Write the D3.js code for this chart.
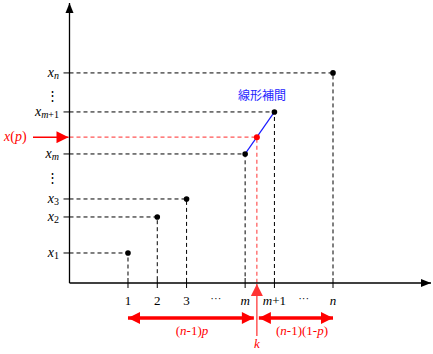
<!DOCTYPE html>
<html>
<head>
<meta charset="utf-8">
<script src="https://cdn.jsdelivr.net/npm/d3@7"></script>
<style>
  body { margin: 0; background: #fff; }
  text { font-family: "Liberation Serif", "DejaVu Serif", serif; }
</style>
</head>
<body>
<div id="chart"></div>
<script>
// order statistics: index position and value
const idx = [1, 2, 3, 5, 6, 8];
const vals = [1, 2.2, 2.8, 4.3, 5.7, 7];
const xLabels = ["1", "2", "3", "m", "m+1", "n"];
const yLabels = ["1", "2", "3", "m", "m+1", "n"];
// ellipsis positions
const xDots = [4, 7];
const yDots = [6.1, 3.35];
// interpolated point
const kIdx = 5.4;
const xp = 4.86;

const W = 433, H = 354;
const svg = d3.select("#chart").append("svg")
    .attr("width", W).attr("height", H);

const x = d3.scaleLinear().domain([0, 8]).range([98.7, 333]);
const y = d3.scaleLinear().domain([0, 9.33]).range([283, 3]);
const ox = 69.5, oy = 283;

// arrow markers
const defs = svg.append("defs");
defs.append("marker").attr("id", "blk")
    .attr("viewBox", "0 0 10 10").attr("refX", 10).attr("refY", 5)
    .attr("markerWidth", 10).attr("markerHeight", 10).attr("markerUnits", "userSpaceOnUse")
    .attr("orient", "auto")
  .append("path").attr("d", "M0,1 L10,5 L0,9 Z").attr("fill", "#000");
defs.append("marker").attr("id", "red")
    .attr("viewBox", "0 0 10 10").attr("refX", 10).attr("refY", 5)
    .attr("markerWidth", 14).attr("markerHeight", 12).attr("markerUnits", "userSpaceOnUse")
    .attr("orient", "auto-start-reverse")
  .append("path").attr("d", "M0,0 L10,5 L0,10 Z").attr("fill", "#f00");
defs.append("marker").attr("id", "red2")
    .attr("viewBox", "0 0 10 10").attr("refX", 10).attr("refY", 5)
    .attr("markerWidth", 16).attr("markerHeight", 12).attr("markerUnits", "userSpaceOnUse")
    .attr("orient", "auto")
  .append("path").attr("d", "M0,0 L10,5 L0,10 Z").attr("fill", "#f33");

// write text with italic letters and upright digits/signs
function rich(sel, str, size) {
  str.match(/[a-z]+|[^a-z]+/g).forEach(part => {
    sel.append("tspan").attr("font-size", size)
      .attr("font-style", /[a-z]/.test(part) ? "italic" : "normal")
      .text(part);
  });
}

// dashed guide lines
const pts = idx.map((d, i) => ({ i: d, v: vals[i] }));
const guides = svg.append("g").attr("stroke", "#000").attr("stroke-width", 1)
    .attr("stroke-dasharray", "4,3").attr("fill", "none");
pts.forEach(p => {
  guides.append("path")
    .attr("d", `M${ox},${y(p.v)} H${x(p.i)} V${oy - 5}`);
});

// red guide lines
svg.append("path")
    .attr("d", `M${ox},${y(xp)} H${x(kIdx)} V${oy}`)
    .attr("fill", "none").attr("stroke", "#ff5555").attr("stroke-width", 1.2)
    .attr("stroke-dasharray", "4,3");

// ticks
const ticks = svg.append("g").attr("stroke", "#000").attr("stroke-width", 1);
pts.forEach(p => {
  ticks.append("line").attr("x1", x(p.i)).attr("x2", x(p.i))
    .attr("y1", oy - 5).attr("y2", oy + 5);
  ticks.append("line").attr("x1", ox - 6).attr("x2", ox)
    .attr("y1", y(p.v)).attr("y2", y(p.v));
});

// axes
svg.append("line").attr("x1", ox).attr("y1", oy).attr("x2", ox).attr("y2", 3)
    .attr("stroke", "#000").attr("stroke-width", 1.3).attr("marker-end", "url(#blk)");
svg.append("line").attr("x1", ox).attr("y1", oy).attr("x2", 431).attr("y2", oy)
    .attr("stroke", "#000").attr("stroke-width", 1.3).attr("marker-end", "url(#blk)");

// linear interpolation segment
svg.append("line")
    .attr("x1", x(idx[3])).attr("y1", y(vals[3]))
    .attr("x2", x(idx[4])).attr("y2", y(vals[4]))
    .attr("stroke", "#1a1aff").attr("stroke-width", 1.2);

// points
svg.append("g").selectAll("circle").data(pts).join("circle")
    .attr("cx", d => x(d.i)).attr("cy", d => y(d.v)).attr("r", 2.8).attr("fill", "#000");
svg.append("circle").attr("cx", x(kIdx)).attr("cy", y(xp)).attr("r", 3).attr("fill", "#f00");

svg.append("text").attr("x", 262).attr("y", 100).attr("text-anchor", "middle")
    .style("font-family", "'Noto Sans CJK JP', sans-serif").attr("font-size", 12)
    .attr("fill", "#2626ff").text("線形補間");

// x labels
xLabels.forEach((l, i) => {
  const t = svg.append("text").attr("x", x(idx[i])).attr("y", 305)
      .attr("text-anchor", "middle");
  rich(t, l, 13);
});
xDots.forEach(d => {
  svg.append("text").attr("x", x(d)).attr("y", 302).attr("text-anchor", "middle")
    .attr("font-size", 11).text("···");
});

// y labels
yLabels.forEach((l, i) => {
  const t = svg.append("text").attr("x", 59).attr("y", y(vals[i]) + 4)
      .attr("text-anchor", "end");
  t.append("tspan").attr("font-size", 14).attr("font-style", "italic").text("x");
  const s = t.append("tspan").attr("dy", 2);
  rich(s, l, 10);
});
yDots.forEach(d => {
  svg.append("text").attr("x", 52).attr("y", y(d)).attr("text-anchor", "middle")
    .attr("font-size", 13).text("⋮");
});

// x(p) arrow
svg.append("line").attr("x1", 33).attr("x2", ox - 1).attr("y1", y(xp)).attr("y2", y(xp))
    .attr("stroke", "#f00").attr("stroke-width", 1.5).attr("marker-end", "url(#red)");
const lp = svg.append("text").attr("x", 4).attr("y", y(xp) + 4).attr("fill", "#f00");
rich(lp, "x(p)", 14);

// k arrow
svg.append("line").attr("x1", x(kIdx)).attr("x2", x(kIdx)).attr("y1", 336).attr("y2", oy + 1)
    .attr("stroke", "#ff5555").attr("stroke-width", 1.5).attr("marker-end", "url(#red2)");
const kl = svg.append("text").attr("x", x(kIdx)).attr("y", 348).attr("text-anchor", "middle")
    .attr("fill", "#f00");
rich(kl, "k", 13);

// span arrows
const ay = 318;
svg.append("line").attr("x1", x(1)).attr("x2", x(kIdx) - 3).attr("y1", ay).attr("y2", ay)
    .attr("stroke", "#f00").attr("stroke-width", 3.5)
    .attr("marker-start", "url(#red)").attr("marker-end", "url(#red)");
svg.append("line").attr("x1", x(kIdx) + 2).attr("x2", x(8)).attr("y1", ay).attr("y2", ay)
    .attr("stroke", "#f00").attr("stroke-width", 3.5)
    .attr("marker-start", "url(#red)").attr("marker-end", "url(#red)");
const t1 = svg.append("text").attr("x", 192).attr("y", 335).attr("text-anchor", "middle").attr("fill", "#f00");
rich(t1, "(n-1)p", 13);
const t2 = svg.append("text").attr("x", 302).attr("y", 335).attr("text-anchor", "middle").attr("fill", "#f00");
rich(t2, "(n-1)(1-p)", 13);
</script>
</body>
</html>
